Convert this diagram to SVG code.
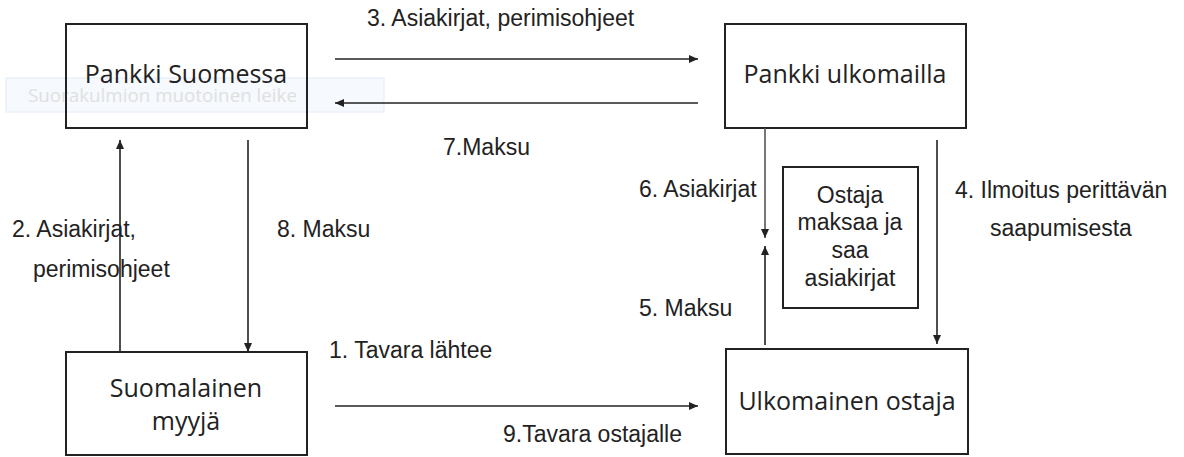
<svg xmlns="http://www.w3.org/2000/svg" width="1184" height="457" viewBox="0 0 1184 457">
<style>
.box{fill:none;stroke:#222;stroke-width:2}
.bt{font-family:"Open Sans","Noto Sans",sans-serif;font-size:25px;fill:#222;text-anchor:middle}
.lb{font-family:"Liberation Sans",Arial,sans-serif;font-size:23px;fill:#222}
.ln{stroke:#222;stroke-width:1.6;fill:none}
</style>
<defs>
<marker id="ah" markerUnits="userSpaceOnUse" markerWidth="10" markerHeight="8" refX="9" refY="4" orient="auto">
<path d="M0,0 L9,4 L0,8 Z" fill="#222"/>
</marker>
</defs>
<rect width="1184" height="457" fill="#fff"/>
<g id="ghost">
<rect x="6" y="78" width="378" height="34" fill="#f6f9fd" stroke="#e3ecf8" stroke-width="1"/>
<text x="28" y="102" style="font-family:'Open Sans','Noto Sans',sans-serif;font-size:18.8px;fill:#e0e0e0">Suorakulmion muotoinen leike</text>
</g>
<g id="pankki-suomessa">
<rect class="box" x="66" y="24" width="241" height="104"/>
<text class="bt" x="186" y="83">Pankki Suomessa</text>
</g>
<g id="pankki-ulkomailla">
<rect class="box" x="725" y="24" width="241" height="104"/>
<text class="bt" x="845" y="83">Pankki ulkomailla</text>
</g>
<g id="ostaja-maksaa">
<rect class="box" x="783" y="167" width="135" height="141"/>
<text class="lb" text-anchor="middle" x="850" y="203">Ostaja</text>
<text class="lb" text-anchor="middle" x="850" y="230">maksaa ja</text>
<text class="lb" text-anchor="middle" x="850" y="258">saa</text>
<text class="lb" text-anchor="middle" x="850" y="286">asiakirjat</text>
</g>
<g id="suomalainen-myyja">
<rect class="box" x="66" y="352" width="241" height="103"/>
<text class="bt" x="186" y="397">Suomalainen</text>
<text class="bt" x="186" y="430">myyjä</text>
</g>
<g id="ulkomainen-ostaja">
<rect class="box" x="726" y="349" width="242" height="105"/>
<text class="bt" x="847" y="410">Ulkomainen ostaja</text>
</g>
<g id="connectors">
<line class="ln" x1="335" y1="59" x2="698" y2="59" marker-end="url(#ah)"/>
<line class="ln" x1="698" y1="103" x2="335" y2="103" marker-end="url(#ah)"/>
<line class="ln" x1="120" y1="352" x2="120" y2="140" marker-end="url(#ah)"/>
<line class="ln" x1="248" y1="140" x2="248" y2="352" marker-end="url(#ah)"/>
<line class="ln" x1="765" y1="128" x2="765" y2="238" marker-end="url(#ah)" style="stroke:#555"/>
<line class="ln" x1="765" y1="345" x2="765" y2="246" marker-end="url(#ah)"/>
<line class="ln" x1="937" y1="140" x2="937" y2="344" marker-end="url(#ah)"/>
<line class="ln" x1="335" y1="406" x2="698" y2="406" marker-end="url(#ah)"/>
</g>
<g id="labels">
<text class="lb" x="367" y="26">3. Asiakirjat, perimisohjeet</text>
<text class="lb" x="443" y="155">7.Maksu</text>
<text class="lb" x="639" y="197">6. Asiakirjat</text>
<text class="lb" x="639" y="316">5. Maksu</text>
<text class="lb" x="955" y="198">4. Ilmoitus perittävän</text>
<text class="lb" x="990" y="236">saapumisesta</text>
<text class="lb" x="12" y="237">2. Asiakirjat,</text>
<text class="lb" x="33" y="277">perimisohjeet</text>
<text class="lb" x="277" y="237">8. Maksu</text>
<text class="lb" x="329" y="358">1. Tavara lähtee</text>
<text class="lb" x="503" y="442">9.Tavara ostajalle</text>
</g>
</svg>
